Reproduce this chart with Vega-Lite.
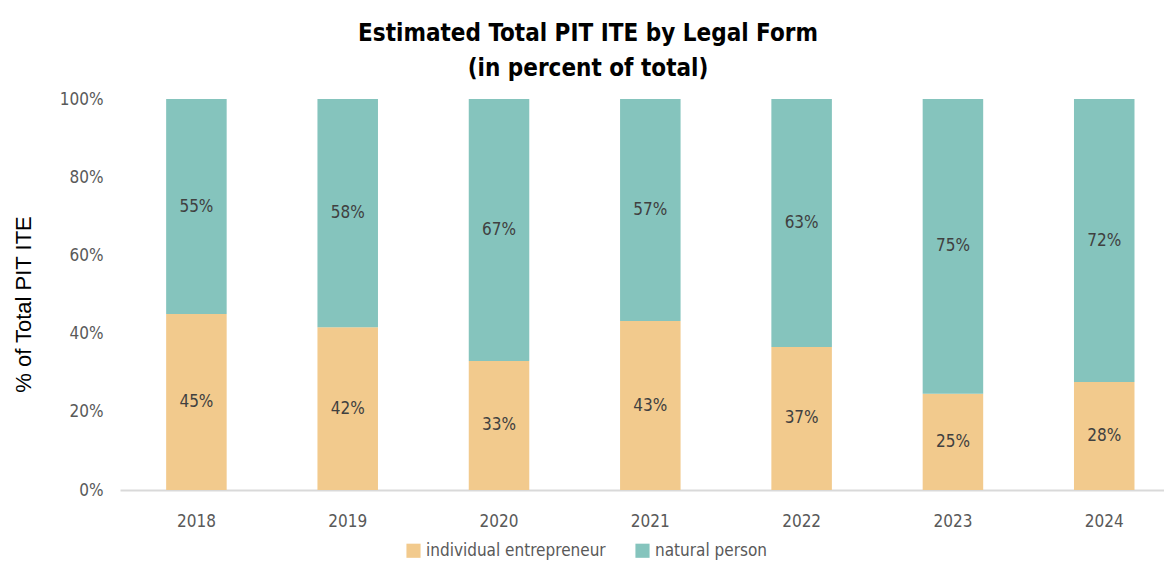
{
  "$schema": "https://vega.github.io/schema/vega-lite/v6.json",
  "autosize": {"type": "none"},
  "padding": {"left": 120, "top": 99, "right": 0, "bottom": 73},
  "width": 1044,
  "height": 391,
  "background": "white",
  "title": {
    "text": ["Estimated Total PIT ITE by Legal Form", "(in percent of total)"],
    "font": "DejaVu Sans Condensed, Liberation Sans, sans-serif",
    "fontSize": 24,
    "fontWeight": "bold",
    "color": "#000000",
    "anchor": "middle",
    "dx": -54,
    "offset": 9,
    "lineHeight": 35
  },
  "config": {
    "view": {"stroke": null},
    "font": "DejaVu Sans Condensed, Liberation Sans, sans-serif"
  },
  "data": {
    "values": [
      {"year": "2018", "form": "individual entrepreneur", "share": 0.45},
      {"year": "2018", "form": "natural person", "share": 0.55},
      {"year": "2019", "form": "individual entrepreneur", "share": 0.416},
      {"year": "2019", "form": "natural person", "share": 0.584},
      {"year": "2020", "form": "individual entrepreneur", "share": 0.33},
      {"year": "2020", "form": "natural person", "share": 0.67},
      {"year": "2021", "form": "individual entrepreneur", "share": 0.432},
      {"year": "2021", "form": "natural person", "share": 0.568},
      {"year": "2022", "form": "individual entrepreneur", "share": 0.366},
      {"year": "2022", "form": "natural person", "share": 0.634},
      {"year": "2023", "form": "individual entrepreneur", "share": 0.246},
      {"year": "2023", "form": "natural person", "share": 0.754},
      {"year": "2024", "form": "individual entrepreneur", "share": 0.276},
      {"year": "2024", "form": "natural person", "share": 0.724}
    ]
  },
  "encoding": {
    "x": {
      "field": "year",
      "type": "ordinal",
      "scale": {"paddingInner": 0.6, "paddingOuter": 0.25, "align": 0.61},
      "axis": {
        "title": null,
        "labelAngle": 0,
        "labelFontSize": 17,
        "labelColor": "#595959",
        "labelPadding": 23,
        "ticks": false,
        "domainColor": "#D9D9D9",
        "domainWidth": 2
      }
    },
    "y": {
      "field": "share",
      "type": "quantitative",
      "stack": "zero",
      "scale": {"domain": [0, 1]},
      "axis": {
        "format": ".0%",
        "values": [0, 0.2, 0.4, 0.6, 0.8, 1],
        "title": "% of Total PIT ITE",
        "titleFont": "Liberation Sans",
        "titleFontSize": 22,
        "titleFontWeight": "normal",
        "titleColor": "#000000",
        "titlePadding": 24,
        "titleY": 205,
        "labelFontSize": 17,
        "labelColor": "#595959",
        "labelPadding": 17,
        "ticks": false,
        "domain": false,
        "grid": false
      }
    },
    "order": {"field": "form", "sort": "ascending"}
  },
  "layer": [
    {
      "mark": {"type": "bar"},
      "encoding": {
        "color": {
          "field": "form",
          "type": "nominal",
          "scale": {
            "domain": ["individual entrepreneur", "natural person"],
            "range": ["#F2CA8D", "#85C4BD"]
          },
          "legend": {
            "title": null,
            "orient": "none",
            "direction": "horizontal",
            "legendX": 285,
            "legendY": 443,
            "symbolType": "square",
            "symbolSize": 200,
            "symbolStrokeWidth": 0,
            "labelFontSize": 17,
            "labelColor": "#595959",
            "labelLimit": 0,
            "columnPadding": 28,
            "labelOffset": 4
          }
        }
      }
    },
    {
      "mark": {"type": "text", "fontSize": 17, "color": "#404040"},
      "encoding": {
        "y": {"field": "share", "type": "quantitative", "stack": "zero", "bandPosition": 0.5},
        "text": {"field": "share", "type": "quantitative", "format": ".0%"}
      }
    }
  ]
}
